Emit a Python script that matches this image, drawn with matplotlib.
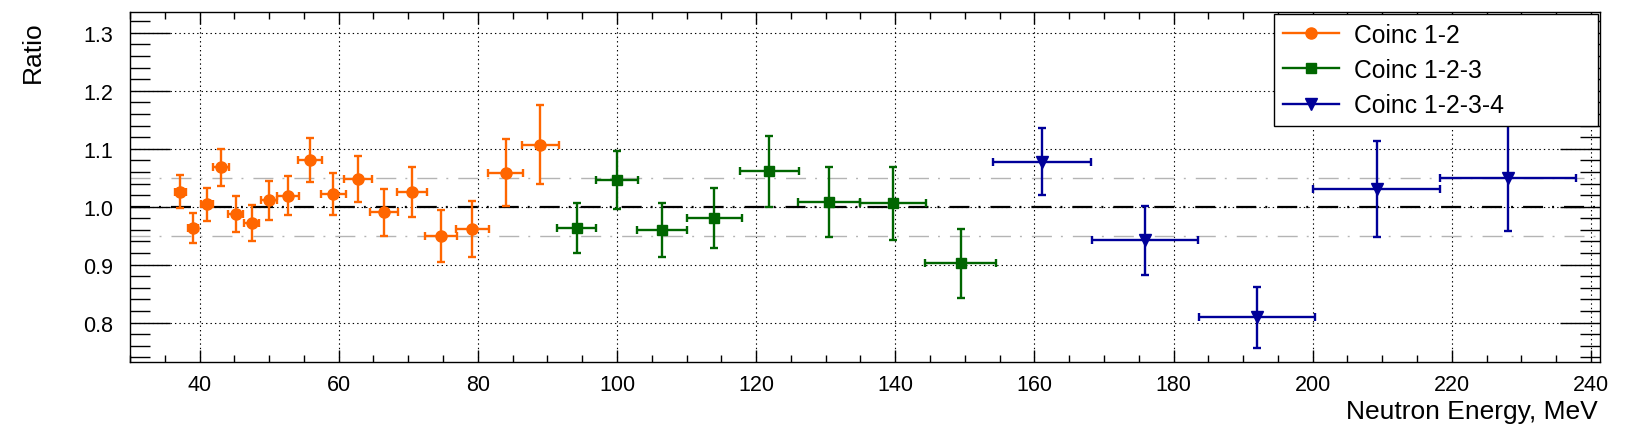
import matplotlib
matplotlib.use('Agg')
import matplotlib.pyplot as plt
from matplotlib.lines import Line2D
from matplotlib.ticker import MultipleLocator, FormatStrFormatter

plt.rcParams['font.family'] = ['Liberation Sans', 'DejaVu Sans']
plt.rcParams['lines.scale_dashes'] = False

# Data: energy (MeV), half bin width, ratio, ratio error
e12 = [37.2, 39.1, 41.1, 43.1, 45.2, 47.5, 50.0, 52.7, 55.9, 59.2, 62.8, 66.5, 70.5, 74.7, 79.2, 84.0, 89.0]
ex12 = [0.8, 0.7, 0.9, 1.1, 1.1, 1.05, 1.15, 1.6, 1.7, 1.8, 2.0, 2.0, 2.15, 2.3, 2.4, 2.5, 2.6]
r12 = [1.026, 0.963, 1.004, 1.068, 0.988, 0.972, 1.011, 1.019, 1.081, 1.022, 1.048, 0.990, 1.025, 0.950, 0.961, 1.059, 1.107]
er12 = [0.028, 0.026, 0.029, 0.032, 0.031, 0.031, 0.034, 0.034, 0.038, 0.037, 0.040, 0.041, 0.043, 0.045, 0.048, 0.057, 0.068]

e123 = [94.2, 100.0, 106.5, 114.0, 121.9, 130.5, 139.7, 149.4]
ex123 = [2.8, 3.0, 3.6, 3.95, 4.2, 4.5, 4.7, 5.1]
r123 = [0.963, 1.046, 0.960, 0.980, 1.061, 1.008, 1.006, 0.902]
er123 = [0.043, 0.050, 0.046, 0.052, 0.061, 0.060, 0.063, 0.059]

e1234 = [161.1, 175.9, 192.0, 209.2, 228.1]
ex1234 = [7.0, 7.6, 8.3, 9.1, 9.8]
r1234 = [1.078, 0.942, 0.809, 1.031, 1.050]
er1234 = [0.058, 0.059, 0.053, 0.083, 0.092]

labels = ['Coinc 1-2', 'Coinc 1-2-3', 'Coinc 1-2-3-4']
colors = ['#ff6600', '#006600', '#000099']
markers = ['o', 's', 'v']
msizes = [8, 7.6, 8.5]

fig = plt.figure(figsize=(16.38, 4.39), dpi=100)
ax = fig.add_axes([130 / 1638, 1 - 363 / 439, 1470 / 1638, 350 / 439])

# reference lines at 1 and +-5%
dash = (14.4, 6.5, 1.4, 7.2)
ax.axhline(1.0, color='black', lw=1.6, dashes=dash, zorder=2)
ax.axhline(1.05, color='#b4b4b4', lw=1.0, dashes=dash, zorder=2)
ax.axhline(0.95, color='#b4b4b4', lw=1.0, dashes=dash, zorder=2)

series = [(e12, ex12, r12, er12), (e123, ex123, r123, er123), (e1234, ex1234, r1234, er1234)]
for (x, xe, y, ye), c, m, s in zip(series, colors, markers, msizes):
    ax.errorbar(x, y, xerr=xe, yerr=ye, fmt=m, color=c, mec=c, mfc=c, ms=s,
                elinewidth=1.7, capsize=3, capthick=1.7, zorder=3)

ax.set_xlim(30, 241.3)
ax.set_ylim(0.732, 1.336)

ax.xaxis.set_major_locator(MultipleLocator(20))
ax.xaxis.set_minor_locator(MultipleLocator(5))
ax.yaxis.set_major_locator(MultipleLocator(0.1))
ax.yaxis.set_minor_locator(MultipleLocator(0.02))
ax.yaxis.set_major_formatter(FormatStrFormatter('%.1f'))

ax.tick_params(which='both', direction='in', top=True, right=True, width=1, labelsize=15.5)
ax.tick_params(axis='y', which='major', length=29, pad=12)
ax.tick_params(axis='y', which='minor', length=14.4)
ax.tick_params(axis='x', which='major', length=8.4, pad=8.3)
ax.tick_params(axis='x', which='minor', length=4.8)

ax.set_axisbelow(True)
ax.grid(True, which='major', color='black', linestyle=(0, (1, 2.2)), lw=0.8)
for sp in ax.spines.values():
    sp.set_linewidth(1.0)

fig.text(32.7 / 1638, 1 - 21.7 / 439, 'Ratio', rotation=90, ha='center', va='top', fontsize=19)
fig.text(1597.7 / 1638, 1 - 419 / 439, 'Neutron Energy, MeV', ha='right', va='baseline', fontsize=19)

handles = [Line2D([], [], color=c, marker=m, ms=s, lw=1.7) for c, m, s in zip(colors, markers, msizes)]
leg = ax.legend(handles, labels, loc='upper left', bbox_to_anchor=(0.778, 0.677, 0.2206, 0.317),
                mode='expand', fontsize=17.8, frameon=True, fancybox=False, edgecolor='black',
                framealpha=1, borderaxespad=0, handlelength=2.3, handletextpad=0.57,
                labelspacing=0.45, borderpad=0.36)
leg.get_frame().set_linewidth(1.0)

fig.savefig('out.png', dpi=100)
